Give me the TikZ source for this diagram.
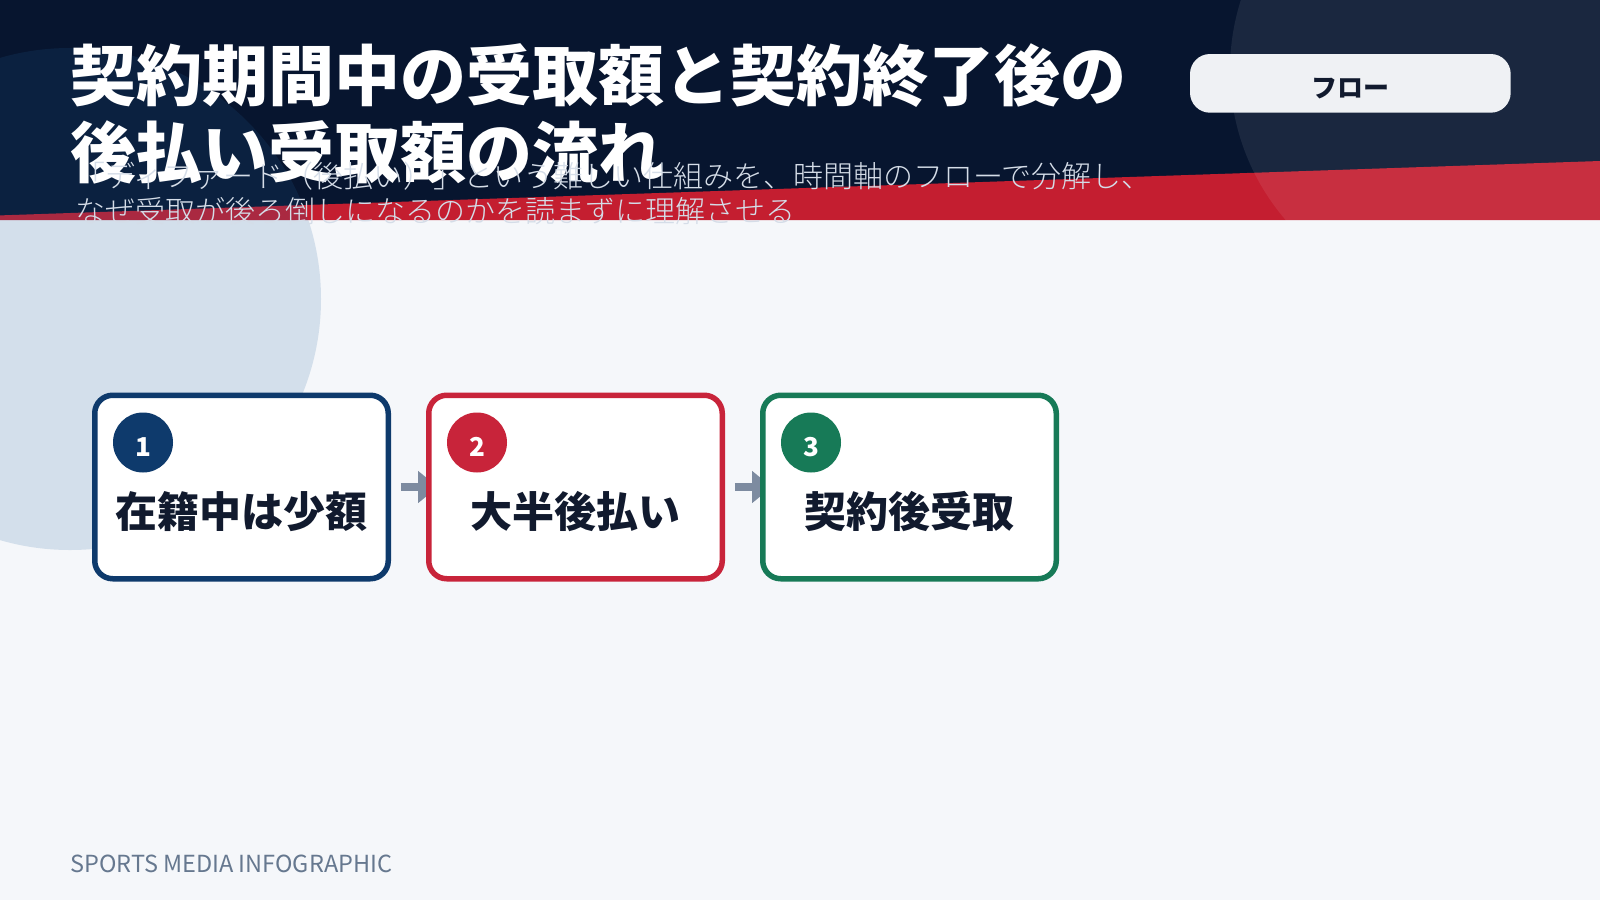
\documentclass[tikz,border=0pt]{standalone}
\usepackage{fontspec}
\setmainfont{Noto Sans CJK JP}
\IfFontExistsTF{Noto Sans CJK JP Light}
  {\newfontfamily\thinfont{Noto Sans CJK JP Light}}
  {\newfontfamily\thinfont{Noto Sans CJK JP}}
\usetikzlibrary{arrows.meta,calc}

\definecolor{headnavy}{HTML}{07152F}
\definecolor{stripered}{HTML}{C41E30}
\definecolor{bodybg}{HTML}{F5F7FA}
\definecolor{circleblue}{HTML}{26639D}
\definecolor{subgrey}{HTML}{D5DDE8}
\definecolor{badgegrey}{HTML}{EFF1F4}
\definecolor{inkdark}{HTML}{111A2E}
\definecolor{stepnavy}{HTML}{0E3A6C}
\definecolor{stepred}{HTML}{C8243A}
\definecolor{stepgreen}{HTML}{177A57}
\definecolor{arrowgrey}{HTML}{7D8BA0}
\definecolor{footgrey}{HTML}{66788F}

\pgfdeclarelayer{behind}
\pgfsetlayers{behind,main}

\tikzset{
  stepbox/.style={draw=#1, fill=white, line width=5.5pt, rounded corners=18pt,
    minimum width=293.5pt, minimum height=183.5pt, inner sep=0pt},
  numdot/.style={circle, fill=#1, text=white, minimum size=60pt, inner sep=0pt,
    font=\fontsize{26}{26}\selectfont\bfseries, text height=27pt, text depth=0pt},
  steplabel/.style={anchor=base, inner sep=0pt, text=inkdark,
    font=\fontsize{42}{42}\selectfont\bfseries},
  flowarrow/.style={draw=arrowgrey, line width=8pt,
    -{Triangle[length=20pt,width=31pt]}},
  badge/.style={fill=badgegrey, rounded corners=20pt, minimum width=320.7pt,
    minimum height=58.7pt, inner sep=0pt, text=inkdark,
    font=\fontsize{26}{26}\selectfont\bfseries, text height=28.3pt, text depth=0pt}
}

\begin{document}
\begin{tikzpicture}[x=1pt, y=-1pt]

    \useasboundingbox (0, 0) rectangle (1600, 900);

    \begin{pgfonlayer}{behind}
      % Draw background
      \fill[bodybg] (0, 0) rectangle (1600, 900);
      \fill[headnavy] (0, 0) rectangle (1600, 220);
      \fill[stripered] (0, 215.4) -- (1600, 161) --
      (1600, 220) -- (0, 220) -- cycle;

      % Draw circles
      \fill[circleblue, opacity=0.16] (70, 299) circle[radius=251];
      \fill[white, opacity=0.08] (1460, 70) circle[radius=230];
    \end{pgfonlayer}

    % Draw heading
    \node[anchor=base west, inner sep=0pt, text=white,
      font=\fontsize{66}{66}\selectfont\bfseries] (title1) at (70, 100.6)
      {契約期間中の受取額と契約終了後の};
    \node[anchor=base west, inner sep=0pt, text=white,
      font=\fontsize{66}{66}\selectfont\bfseries] (title2) at (70, 177)
      {後払い受取額の流れ};
    \node[anchor=base west, inner sep=0pt, text=subgrey,
      font=\fontsize{30}{30}\selectfont\thinfont] (sub1) at (75, 187)
      {「ディファード（後払い）」という難しい仕組みを、時間軸のフローで分解し、};
    \node[anchor=base west, inner sep=0pt, text=subgrey,
      font=\fontsize{30}{30}\selectfont\thinfont] (sub2) at (75, 222)
      {なぜ受取が後ろ倒しになるのかを読まずに理解させる};
    \node[badge] (tag) at (1350.35, 83.35) {フロー};

    % Draw steps
    \foreach \i/\col/\txt in {1/stepnavy/在籍中は少額,
      2/stepred/大半後払い, 3/stepgreen/契約後受取}{
      \node[stepbox=\col] (s\i) at ({241.5 + 334*(\i - 1)}, 487) {};
      \node[numdot=\col] (d\i) at ($(s\i.north west) + (51, 50)$) {\i};
      \node[steplabel] (t\i) at ($(s\i.center) + (0, 40)$) {\txt};
    }

    % Draw arrows under the boxes
    \begin{pgfonlayer}{behind}
      \foreach \a/\b in {1/2, 2/3}{
        \draw[flowarrow] ([xshift=9.75pt]s\a.east) -- ([xshift=12pt]s\b.west);
      }
    \end{pgfonlayer}

    % Draw footer
    \node[anchor=base west, inner sep=0pt, text=footgrey,
      font=\fontsize{23.5}{23.5}\selectfont] (foot) at (70, 872)
      {SPORTS MEDIA INFOGRAPHIC};

  \end{tikzpicture}
\end{document}
